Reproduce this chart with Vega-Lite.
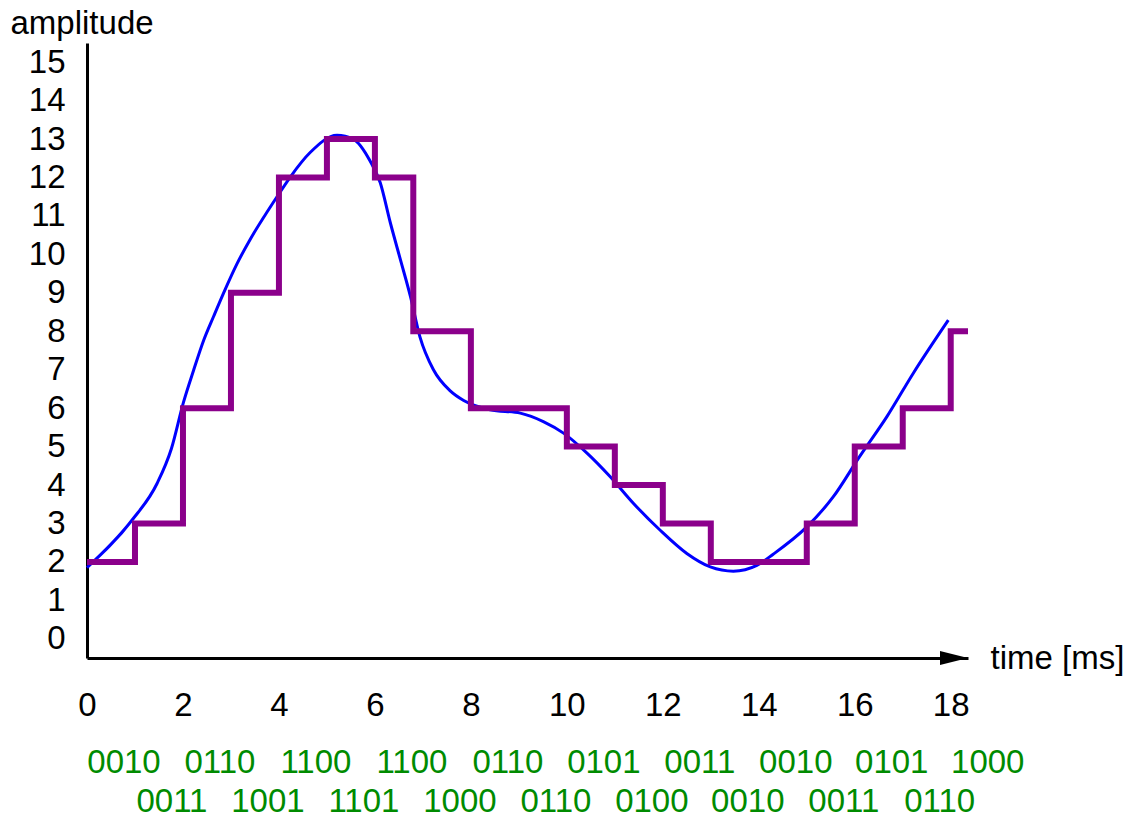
{
  "$schema": "https://vega.github.io/schema/vega-lite/v6.json",
  "width": 881,
  "height": 615,
  "autosize": {"type": "none"},
  "padding": {"left": 87, "top": 43, "right": 177, "bottom": 161},
  "background": "white",
  "config": {
    "view": {"stroke": null},
    "font": "Liberation Sans",
    "axis": {
      "domainColor": "black",
      "domainWidth": 3,
      "ticks": false,
      "tickSize": 0,
      "grid": false,
      "labelFont": "Liberation Sans",
      "labelFontSize": 33,
      "labelColor": "black",
      "titleFont": "Liberation Sans",
      "titleFontSize": 33,
      "titleFontWeight": "normal",
      "titleColor": "black"
    }
  },
  "datasets": {
    "curve": [
      {"x": 0, "y": 1.85}, {"x": 0.94, "y": 3.09}, {"x": 1.46, "y": 4.04}, {"x": 1.76, "y": 4.95},
      {"x": 2.01, "y": 6.15}, {"x": 2.22, "y": 6.98}, {"x": 2.43, "y": 7.76}, {"x": 2.64, "y": 8.39},
      {"x": 2.88, "y": 9.09}, {"x": 3.12, "y": 9.74}, {"x": 3.4, "y": 10.39}, {"x": 3.7, "y": 11.0},
      {"x": 3.96, "y": 11.5}, {"x": 4.24, "y": 12.02}, {"x": 4.65, "y": 12.65}, {"x": 5.21, "y": 13.1},
      {"x": 5.55, "y": 13.0}, {"x": 5.9, "y": 12.43}, {"x": 6.11, "y": 11.87}, {"x": 6.32, "y": 10.83},
      {"x": 6.53, "y": 9.87}, {"x": 6.74, "y": 8.91}, {"x": 6.94, "y": 7.85}, {"x": 7.22, "y": 7.0},
      {"x": 7.57, "y": 6.45}, {"x": 7.85, "y": 6.2}, {"x": 8.4, "y": 5.96}, {"x": 9.03, "y": 5.87},
      {"x": 9.51, "y": 5.65}, {"x": 9.93, "y": 5.35}, {"x": 10.42, "y": 4.83}, {"x": 10.9, "y": 4.22},
      {"x": 11.39, "y": 3.52}, {"x": 11.94, "y": 2.83}, {"x": 12.5, "y": 2.22}, {"x": 12.99, "y": 1.87},
      {"x": 13.47, "y": 1.76}, {"x": 13.96, "y": 1.91}, {"x": 14.3, "y": 2.2}, {"x": 15.0, "y": 2.91},
      {"x": 15.55, "y": 3.69}, {"x": 16.1, "y": 4.74}, {"x": 16.67, "y": 5.78}, {"x": 17.22, "y": 6.91},
      {"x": 17.95, "y": 8.29}
    ],
    "steps": [
      {"x": 0, "level": 2}, {"x": 1, "level": 3}, {"x": 2, "level": 6}, {"x": 3, "level": 9},
      {"x": 4, "level": 12}, {"x": 5, "level": 13}, {"x": 6, "level": 12}, {"x": 6.8, "level": 8},
      {"x": 8, "level": 6}, {"x": 9, "level": 6}, {"x": 10, "level": 5}, {"x": 11, "level": 4},
      {"x": 12, "level": 3}, {"x": 13, "level": 2}, {"x": 14, "level": 2}, {"x": 15, "level": 3},
      {"x": 16, "level": 5}, {"x": 17, "level": 6}, {"x": 18, "level": 8}, {"x": 18.36, "level": 8}
    ],
    "codes": [
      {"t": 0, "code": "0010"}, {"t": 1, "code": "0011"}, {"t": 2, "code": "0110"}, {"t": 3, "code": "1001"},
      {"t": 4, "code": "1100"}, {"t": 5, "code": "1101"}, {"t": 6, "code": "1100"}, {"t": 7, "code": "1000"},
      {"t": 8, "code": "0110"}, {"t": 9, "code": "0110"}, {"t": 10, "code": "0101"}, {"t": 11, "code": "0100"},
      {"t": 12, "code": "0011"}, {"t": 13, "code": "0010"}, {"t": 14, "code": "0010"}, {"t": 15, "code": "0011"},
      {"t": 16, "code": "0101"}, {"t": 17, "code": "0110"}, {"t": 18, "code": "1000"}
    ],
    "arrow": [{"x": 18.36, "y": -0.5}]
  },
  "layer": [
    {
      "data": {"name": "curve"},
      "mark": {"type": "line", "color": "#0000ff", "strokeWidth": 3, "interpolate": "monotone"},
      "encoding": {
        "x": {
          "field": "x", "type": "quantitative",
          "scale": {"domain": [0, 18.36], "nice": false, "zero": false},
          "axis": {
            "values": [0, 2, 4, 6, 8, 10, 12, 14, 16, 18],
            "labelPadding": 31,
            "labelFlush": false,
            "title": "time [ms]",
            "titleAnchor": "start",
            "titleAlign": "left",
            "titleBaseline": "alphabetic",
            "titleX": 903,
            "titleY": 10
          }
        },
        "y": {
          "field": "y", "type": "quantitative",
          "scale": {"domain": [-0.5, 15.5], "nice": false, "zero": false},
          "axis": {
            "values": [0, 1, 2, 3, 4, 5, 6, 7, 8, 9, 10, 11, 12, 13, 14, 15],
            "labelPadding": 22,
            "labelFlush": false,
            "title": "amplitude",
            "titleAngle": 0,
            "titleAlign": "left",
            "titleBaseline": "alphabetic",
            "titleX": -77,
            "titleY": -10
          }
        }
      }
    },
    {
      "data": {"name": "steps"},
      "mark": {"type": "line", "color": "#8b008b", "strokeWidth": 6, "interpolate": "step-after", "strokeJoin": "miter", "strokeCap": "butt"},
      "encoding": {
        "x": {"field": "x", "type": "quantitative"},
        "y": {"field": "level", "type": "quantitative"}
      }
    },
    {
      "data": {"name": "arrow"},
      "mark": {"type": "point", "shape": "M -2 -0.5 L 0 0 L -2 0.5 Z", "filled": true, "color": "black", "opacity": 1, "size": 784},
      "encoding": {
        "x": {"field": "x", "type": "quantitative"},
        "y": {"field": "y", "type": "quantitative"}
      }
    },
    {
      "data": {"name": "codes"},
      "transform": [{"filter": "datum.t % 2 == 0"}],
      "mark": {"type": "text", "color": "#008b00", "font": "Liberation Sans", "fontSize": 33, "align": "center", "baseline": "alphabetic", "dx": 37, "dy": 115},
      "encoding": {
        "x": {"field": "t", "type": "quantitative"},
        "y": {"datum": -0.5},
        "text": {"field": "code"}
      }
    },
    {
      "data": {"name": "codes"},
      "transform": [{"filter": "datum.t % 2 == 1"}],
      "mark": {"type": "text", "color": "#008b00", "font": "Liberation Sans", "fontSize": 33, "align": "center", "baseline": "alphabetic", "dx": 37, "dy": 154},
      "encoding": {
        "x": {"field": "t", "type": "quantitative"},
        "y": {"datum": -0.5},
        "text": {"field": "code"}
      }
    }
  ]
}
